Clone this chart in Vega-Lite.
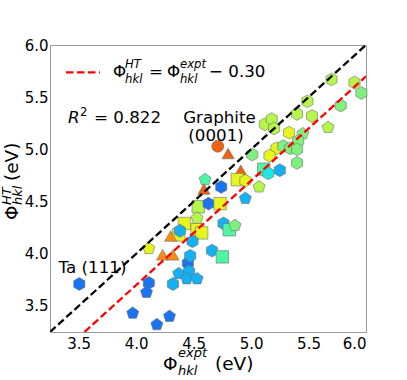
{
  "$schema": "https://vega.github.io/schema/vega-lite/v6.json",
  "width": 316,
  "height": 287,
  "autosize": "none",
  "padding": {"left": 50, "top": 45, "right": 41, "bottom": 48},
  "background": "white",
  "config": {
    "view": {"stroke": "#999999", "strokeWidth": 1},
    "font": "DejaVu Sans",
    "axis": {"grid": false, "domain": false, "ticks": false, "labelFont": "DejaVu Sans", "labelFontSize": 15, "labelColor": "#000000", "title": null}
  },
  "layer": [
    {
      "mark": {"type": "rect", "fill": "white", "fillOpacity": 0.8, "stroke": "#cccccc", "strokeWidth": 1, "cornerRadius": 4},
      "encoding": {
        "x": {"datum": 3.331, "type": "quantitative", "scale": {"domain": [3.25, 6.0], "nice": false, "zero": false}, "axis": {"values": [3.5, 4.0, 4.5, 5.0, 5.5, 6.0], "format": ".1f", "labelPadding": 4}},
        "x2": {"datum": 5.18},
        "y": {"datum": 5.576, "type": "quantitative", "scale": {"domain": [3.25, 6.0], "nice": false, "zero": false}, "axis": {"values": [3.5, 4.0, 4.5, 5.0, 5.5, 6.0], "format": ".1f", "labelPadding": 2}},
        "y2": {"datum": 5.92}
      }
    },
    {
      "data": {"values": [
        {"x": 5.70, "y": 5.67, "s": "hex", "c": "L"},
        {"x": 5.90, "y": 5.64, "s": "hex", "c": "L"},
        {"x": 5.96, "y": 5.54, "s": "hex", "c": "G"},
        {"x": 5.78, "y": 5.42, "s": "hex", "c": "G"},
        {"x": 5.49, "y": 5.46, "s": "hex", "c": "L"},
        {"x": 5.40, "y": 5.34, "s": "hex", "c": "L"},
        {"x": 5.53, "y": 5.32, "s": "hex", "c": "L"},
        {"x": 5.67, "y": 5.21, "s": "pent", "c": "L"},
        {"x": 5.12, "y": 5.24, "s": "hex", "c": "L"},
        {"x": 5.18, "y": 5.29, "s": "hex", "c": "L"},
        {"x": 5.20, "y": 5.20, "s": "hex", "c": "L"},
        {"x": 5.33, "y": 5.16, "s": "hex", "c": "Y"},
        {"x": 5.45, "y": 5.15, "s": "pent", "c": "G"},
        {"x": 5.41, "y": 5.08, "s": "hex", "c": "G"},
        {"x": 5.22, "y": 5.01, "s": "hex", "c": "Y"},
        {"x": 5.16, "y": 4.94, "s": "hex", "c": "Y"},
        {"x": 5.28, "y": 5.03, "s": "hex", "c": "G"},
        {"x": 5.34, "y": 5.01, "s": "hex", "c": "G"},
        {"x": 5.40, "y": 5.00, "s": "hex", "c": "G"},
        {"x": 5.01, "y": 4.95, "s": "hex", "c": "G"},
        {"x": 5.40, "y": 4.87, "s": "hex", "c": "G"},
        {"x": 5.11, "y": 4.81, "s": "square", "c": "A"},
        {"x": 5.15, "y": 4.77, "s": "hex", "c": "T"},
        {"x": 5.25, "y": 4.80, "s": "hex", "c": "C"},
        {"x": 4.71, "y": 5.03, "s": "circle", "c": "R"},
        {"x": 4.80, "y": 4.96, "s": "tri", "c": "R"},
        {"x": 4.91, "y": 4.80, "s": "tri", "c": "R"},
        {"x": 4.88, "y": 4.71, "s": "square", "c": "Y"},
        {"x": 4.95, "y": 4.70, "s": "hex", "c": "Y"},
        {"x": 5.07, "y": 4.64, "s": "pent", "c": "L"},
        {"x": 4.60, "y": 4.71, "s": "pent", "c": "A"},
        {"x": 4.59, "y": 4.62, "s": "tri", "c": "R"},
        {"x": 4.74, "y": 4.64, "s": "hex", "c": "B"},
        {"x": 4.95, "y": 4.53, "s": "pent", "c": "C"},
        {"x": 4.54, "y": 4.45, "s": "square", "c": "L"},
        {"x": 4.63, "y": 4.48, "s": "hex", "c": "B"},
        {"x": 4.73, "y": 4.48, "s": "square", "c": "Y"},
        {"x": 4.53, "y": 4.34, "s": "pent", "c": "L"},
        {"x": 4.42, "y": 4.29, "s": "square", "c": "Y"},
        {"x": 4.53, "y": 4.23, "s": "square", "c": "Y"},
        {"x": 4.57, "y": 4.20, "s": "square", "c": "Y"},
        {"x": 4.37, "y": 4.18, "s": "square", "c": "Y"},
        {"x": 4.30, "y": 4.17, "s": "tri", "c": "O"},
        {"x": 4.38, "y": 4.22, "s": "hex", "c": "C"},
        {"x": 4.49, "y": 4.12, "s": "hex", "c": "C"},
        {"x": 4.76, "y": 4.29, "s": "hex", "c": "C"},
        {"x": 4.81, "y": 4.23, "s": "square", "c": "A"},
        {"x": 4.86, "y": 4.27, "s": "pent", "c": "G"},
        {"x": 4.11, "y": 4.05, "s": "pent", "c": "Y"},
        {"x": 4.23, "y": 3.99, "s": "tri", "c": "O"},
        {"x": 4.32, "y": 3.99, "s": "tri", "c": "O"},
        {"x": 4.45, "y": 3.91, "s": "hex", "c": "B"},
        {"x": 4.47, "y": 3.98, "s": "hex", "c": "C"},
        {"x": 4.66, "y": 4.03, "s": "hex", "c": "C"},
        {"x": 4.75, "y": 3.97, "s": "square", "c": "A"},
        {"x": 4.37, "y": 3.81, "s": "pent", "c": "C"},
        {"x": 4.46, "y": 3.83, "s": "hex", "c": "C"},
        {"x": 4.44, "y": 3.76, "s": "pent", "c": "C"},
        {"x": 4.53, "y": 3.76, "s": "pent", "c": "C"},
        {"x": 4.32, "y": 3.71, "s": "hex", "c": "C"},
        {"x": 4.11, "y": 3.72, "s": "hex", "c": "B"},
        {"x": 4.09, "y": 3.63, "s": "pent", "c": "B"},
        {"x": 3.97, "y": 3.43, "s": "pent", "c": "B"},
        {"x": 4.29, "y": 3.40, "s": "pent", "c": "B"},
        {"x": 4.18, "y": 3.32, "s": "pent", "c": "B"},
        {"x": 3.505, "y": 3.71, "s": "hex", "c": "B"}
      ]},
      "mark": {"type": "point", "filled": true, "opacity": 1, "stroke": "#6f6f6f", "strokeOpacity": 0.6, "strokeWidth": 1},
      "encoding": {
        "x": {"field": "x", "type": "quantitative"},
        "y": {"field": "y", "type": "quantitative"},
        "color": {"field": "c", "type": "nominal", "legend": null, "scale": {"domain": ["B", "C", "T", "A", "G", "L", "Y", "O", "R"], "range": ["#1a73f0", "#16b0f2", "#1ee8e4", "#4ff5a5", "#7ff07f", "#b6f54c", "#e5f51e", "#fa8c14", "#f0620f"]}},
        "shape": {"field": "s", "type": "nominal", "legend": null, "scale": {"domain": ["hex", "pent", "square", "tri", "circle"], "range": ["M0,-1L0.866,-0.5L0.866,0.5L0,1L-0.866,0.5L-0.866,-0.5Z", "M0,-1L0.951,-0.309L0.588,0.809L-0.588,0.809L-0.951,-0.309Z", "square", "triangle-up", "circle"]}},
        "size": {"field": "s", "type": "ordinal", "legend": null, "scale": {"domain": ["hex", "pent", "square", "tri", "circle"], "range": [165, 145, 135, 150, 140]}}
      }
    },
    {
      "data": {"values": [{"x": 3.25, "y": 3.25}, {"x": 6.0, "y": 6.0}]},
      "mark": {"type": "line", "color": "#000000", "strokeWidth": 2.3, "strokeDash": [7.5, 3.5], "clip": true},
      "encoding": {"x": {"field": "x", "type": "quantitative"}, "y": {"field": "y", "type": "quantitative"}}
    },
    {
      "data": {"values": [{"x": 3.55, "y": 3.25}, {"x": 6.0, "y": 5.7}]},
      "mark": {"type": "line", "color": "#ff0000", "strokeWidth": 2.3, "strokeDash": [7.5, 3.5], "clip": true},
      "encoding": {"x": {"field": "x", "type": "quantitative"}, "y": {"field": "y", "type": "quantitative"}}
    },
    {
      "data": {"values": [{"x": 3.389, "y": 5.738}, {"x": 3.685, "y": 5.738}]},
      "mark": {"type": "line", "color": "#ff0000", "strokeWidth": 2.3, "strokeDash": [7.5, 3.5]},
      "encoding": {"x": {"field": "x", "type": "quantitative"}, "y": {"field": "y", "type": "quantitative"}}
    },
    {
      "data": {"values": [
        {"x": 3.798, "y": 5.741, "t": "Φ"},
        {"x": 4.112, "y": 5.741, "t": "="},
        {"x": 4.268, "y": 5.741, "t": "Φ"},
        {"x": 4.634, "y": 5.741, "t": "− 0.30"},
        {"x": 3.633, "y": 5.296, "t": "= 0.822"}
      ]},
      "mark": {"type": "text", "align": "left", "baseline": "middle", "fontSize": 16.7, "font": "DejaVu Sans", "color": "#000000"},
      "encoding": {"x": {"field": "x", "type": "quantitative"}, "y": {"field": "y", "type": "quantitative"}, "text": {"field": "t"}}
    },
    {
      "data": {"values": [
        {"x": 4.725, "y": 5.302, "t": "Graphite"},
        {"x": 4.695, "y": 5.124, "t": "(0001)"},
        {"x": 3.62, "y": 3.861, "t": "Ta (111)"}
      ]},
      "mark": {"type": "text", "align": "center", "baseline": "middle", "fontSize": 16.7, "font": "DejaVu Sans", "color": "#000000"},
      "encoding": {"x": {"field": "x", "type": "quantitative"}, "y": {"field": "y", "type": "quantitative"}, "text": {"field": "t"}}
    },
    {
      "data": {"values": [{"x": 3.407, "y": 5.296, "t": "R"}]},
      "mark": {"type": "text", "align": "left", "baseline": "middle", "fontSize": 16.7, "fontStyle": "italic", "font": "DejaVu Sans", "color": "#000000"},
      "encoding": {"x": {"field": "x", "type": "quantitative"}, "y": {"field": "y", "type": "quantitative"}, "text": {"field": "t"}}
    },
    {
      "data": {"values": [{"x": 3.511, "y": 5.358, "t": "2"}]},
      "mark": {"type": "text", "align": "left", "baseline": "middle", "fontSize": 11.7, "font": "DejaVu Sans", "color": "#000000"},
      "encoding": {"x": {"field": "x", "type": "quantitative"}, "y": {"field": "y", "type": "quantitative"}, "text": {"field": "t"}}
    },
    {
      "data": {"values": [
        {"x": 3.903, "y": 5.818, "t": "HT"},
        {"x": 3.903, "y": 5.674, "t": "hkl"},
        {"x": 4.381, "y": 5.818, "t": "expt"},
        {"x": 4.381, "y": 5.674, "t": "hkl"}
      ]},
      "mark": {"type": "text", "align": "left", "baseline": "middle", "fontSize": 11.7, "fontStyle": "italic", "font": "DejaVu Sans", "color": "#000000"},
      "encoding": {"x": {"field": "x", "type": "quantitative"}, "y": {"field": "y", "type": "quantitative"}, "text": {"field": "t"}}
    },
    {
      "data": {"values": [
        {"x": 4.233, "y": 2.944, "t": "Φ"},
        {"x": 4.686, "y": 2.944, "t": "(eV)"}
      ]},
      "mark": {"type": "text", "align": "left", "baseline": "middle", "fontSize": 18.5, "font": "DejaVu Sans", "color": "#000000"},
      "encoding": {"x": {"field": "x", "type": "quantitative"}, "y": {"field": "y", "type": "quantitative"}, "text": {"field": "t"}}
    },
    {
      "data": {"values": [
        {"x": 4.364, "y": 3.05, "t": "expt"},
        {"x": 4.364, "y": 2.877, "t": "hkl"}
      ]},
      "mark": {"type": "text", "align": "left", "baseline": "middle", "fontSize": 13, "fontStyle": "italic", "font": "DejaVu Sans", "color": "#000000"},
      "encoding": {"x": {"field": "x", "type": "quantitative"}, "y": {"field": "y", "type": "quantitative"}, "text": {"field": "t"}}
    },
    {
      "data": {"values": [
        {"x": 2.915, "y": 4.324, "t": "Φ"},
        {"x": 2.915, "y": 4.697, "t": "(eV)"}
      ]},
      "mark": {"type": "text", "align": "left", "baseline": "middle", "angle": 270, "fontSize": 18.5, "font": "DejaVu Sans", "color": "#000000"},
      "encoding": {"x": {"field": "x", "type": "quantitative"}, "y": {"field": "y", "type": "quantitative"}, "text": {"field": "t"}}
    },
    {
      "data": {"values": [
        {"x": 2.872, "y": 4.467, "t": "HT"},
        {"x": 2.97, "y": 4.467, "t": "hkl"}
      ]},
      "mark": {"type": "text", "align": "left", "baseline": "middle", "angle": 270, "fontSize": 13, "fontStyle": "italic", "font": "DejaVu Sans", "color": "#000000"},
      "encoding": {"x": {"field": "x", "type": "quantitative"}, "y": {"field": "y", "type": "quantitative"}, "text": {"field": "t"}}
    }
  ]
}
